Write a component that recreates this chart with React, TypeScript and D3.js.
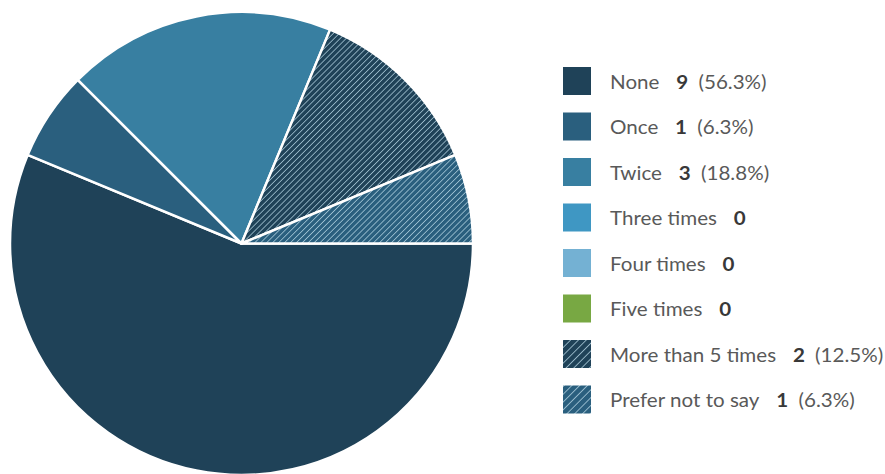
import React from "react";
import * as d3 from "d3";

const categories = ["None", "Once", "Twice", "Three times", "Four times", "Five times", "More than 5 times", "Prefer not to say"];
const counts = [9, 1, 3, 0, 0, 0, 2, 1];
const percentLabels = ["56.3%", "6.3%", "18.8%", "", "", "", "12.5%", "6.3%"];
const baseColors = ["#1f4258", "#2a5f7e", "#387fa1", "#3f97c3", "#74b1d3", "#78a843", "#1f4258", "#2a5f7e"];
const hatched = [false, false, false, false, false, false, true, true];

const W = 885;
const H = 474;
const cx = 241.5;
const cy = 243.5;
const R = 231.5;

export default function App() {
  const pie = d3
    .pie<number>()
    .sort(null)
    .value((d) => d)
    .startAngle(Math.PI / 2)
    .endAngle(Math.PI / 2 + 2 * Math.PI);
  const arcs = pie(counts);
  const arc = d3.arc<d3.PieArcDatum<number>>().innerRadius(0).outerRadius(R);

  const legendY = d3.scalePoint<string>().domain(categories).range([81, 399.5]);

  const fillFor = (i: number) => (hatched[i] ? `url(#hatch${i})` : baseColors[i]);

  return (
    <svg
      width={W}
      height={H}
      style={{ position: "absolute", left: 0, top: 0, background: "#fff" }}
      fontFamily="Lato, 'Open Sans', sans-serif"
    >
      <defs>
        {categories.map((c, i) =>
          hatched[i] ? (
            <pattern
              key={c}
              id={`hatch${i}`}
              patternUnits="userSpaceOnUse"
              width={4.2}
              height={4.2}
              patternTransform="rotate(45)"
            >
              <rect width={4.2} height={4.2} fill={baseColors[i]} />
              <line x1={0} y1={0} x2={0} y2={4.2} stroke="#bcdbe9" strokeWidth={1.3} />
            </pattern>
          ) : null
        )}
        {categories.map((c, i) =>
          hatched[i] ? (
            <pattern
              key={"l" + c}
              id={`lhatch${i}`}
              patternUnits="userSpaceOnUse"
              width={5.5}
              height={5.5}
              patternTransform="rotate(45)"
            >
              <rect width={5.5} height={5.5} fill={baseColors[i]} />
              <line x1={0} y1={0} x2={0} y2={5.5} stroke="#bcdbe9" strokeWidth={1.4} />
            </pattern>
          ) : null
        )}
      </defs>
      <g transform={`translate(${cx},${cy})`}>
        {arcs.map((a, i) =>
          a.value > 0 ? (
            <path key={categories[i]} d={arc(a) || ""} fill={fillFor(i)} stroke="#fff" strokeWidth={2.5} strokeLinejoin="round" />
          ) : null
        )}
      </g>
      <g>
        {categories.map((c, i) => {
          const y = legendY(c) as number;
          return (
            <g key={c}>
              <rect
                x={563}
                y={y - 14}
                width={28}
                height={28}
                fill={hatched[i] ? `url(#lhatch${i})` : baseColors[i]}
              />
              <g transform={`translate(610,${y + 7.5}) scale(1.084,1)`}>
                <text x={0} y={0} fontSize={19} fill="#595959">
                  <tspan>{c}</tspan>
                  <tspan dx={15.5} fontWeight="bold" fill="#383838">
                    {counts[i]}
                  </tspan>
                  {percentLabels[i] ? <tspan dx={9.5}>{`(${percentLabels[i]})`}</tspan> : null}
                </text>
              </g>
            </g>
          );
        })}
      </g>
    </svg>
  );
}
